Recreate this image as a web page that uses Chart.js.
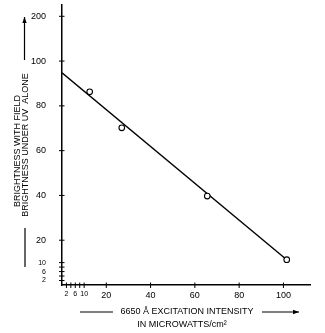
<!DOCTYPE html>
<html>
<head>
<meta charset="utf-8">
<script src="https://cdn.jsdelivr.net/npm/chart.js@4.4.0/dist/chart.umd.min.js"></script>
<style>
  html, body { margin: 0; padding: 0; background: #fff; }
  canvas { display: block; }
</style>
</head>
<body>
<canvas id="chart" width="325" height="333"></canvas>
<script>
// measured points (excitation intensity vs brightness ratio)
const intensity = [12.5, 27.0, 65.6, 101.5];
const brightness = [86.3, 70.2, 39.7, 11.3];
// fitted straight line
const fitX = [0, 101.5];
const fitY = [94.8, 11.3];

const xTicks = [2, 4, 6, 8, 10, 20, 40, 60, 80, 100];
const xTickLabels = ['2', '', '6', '', '10', '20', '40', '60', '80', '100'];
// top tick stands in for 200 (axis is squeezed above 100)
const yTicks = [2, 4, 6, 8, 10, 20, 40, 60, 80, 100, 120];
const yTickLabels = ['2', '', '6', '', '10', '20', '40', '60', '80', '100', '200'];

const xTitle = ['6650 Å EXCITATION INTENSITY', 'IN MICROWATTS/cm²'];
const yTitle = ['BRIGHTNESS WITH FIELD', 'BRIGHTNESS UNDER UV  ALONE'];

const INK = '#000';
const FAMILY = '"Liberation Sans", Arial, sans-serif';
Chart.defaults.font.family = FAMILY;
Chart.defaults.color = INK;

const tickFont = (ctx) => ({ family: FAMILY, size: ctx.tick && ctx.tick.value <= 10 ? 7 : 9 });

function arrow(ctx, x1, y1, x2, y2) {
  ctx.beginPath();
  ctx.moveTo(x1, y1);
  ctx.lineTo(x2, y2);
  ctx.stroke();
  const a = Math.atan2(y2 - y1, x2 - x1);
  ctx.beginPath();
  ctx.moveTo(x2, y2);
  ctx.lineTo(x2 - 6 * Math.cos(a) + 2.2 * Math.sin(a), y2 - 6 * Math.sin(a) - 2.2 * Math.cos(a));
  ctx.lineTo(x2 - 6 * Math.cos(a) - 2.2 * Math.sin(a), y2 - 6 * Math.sin(a) + 2.2 * Math.cos(a));
  ctx.closePath();
  ctx.fill();
}

const decorations = {
  id: 'decorations',
  afterDraw(chart) {
    const { ctx, scales: { x, y }, chartArea } = chart;
    ctx.save();
    ctx.strokeStyle = INK;
    ctx.fillStyle = INK;
    ctx.lineWidth = 1;

    // tick marks crossing the axes
    x.ticks.forEach((t) => {
      const px = x.getPixelForValue(t.value);
      ctx.beginPath();
      ctx.moveTo(px, chartArea.bottom - 2.5);
      ctx.lineTo(px, chartArea.bottom + 3);
      ctx.stroke();
    });
    y.ticks.forEach((t) => {
      const py = y.getPixelForValue(t.value);
      ctx.beginPath();
      ctx.moveTo(chartArea.left - 3, py);
      ctx.lineTo(chartArea.left + 2.5, py);
      ctx.stroke();
    });

    // y title (two stacked lines, rotated)
    ctx.font = '9px ' + FAMILY;
    ctx.textAlign = 'center';
    ctx.textBaseline = 'middle';
    ctx.save();
    ctx.translate(17.5, 151);
    ctx.rotate(-Math.PI / 2);
    ctx.fillText(yTitle[0], 0, 0);
    ctx.restore();
    ctx.save();
    ctx.translate(26, 145);
    ctx.rotate(-Math.PI / 2);
    ctx.fillText(yTitle[1], 0, 0);
    ctx.restore();

    // x title
    ctx.fillText(xTitle[0], 187, 312);
    ctx.fillText(xTitle[1], 182, 325);

    // arrows and bars
    ctx.lineWidth = 1.2;
    arrow(ctx, 24.5, 60, 24.5, 17);
    ctx.beginPath();
    ctx.moveTo(25, 228);
    ctx.lineTo(25, 267);
    ctx.stroke();
    ctx.beginPath();
    ctx.moveTo(80, 312);
    ctx.lineTo(113, 312);
    ctx.stroke();
    arrow(ctx, 262, 312, 299, 312);
    ctx.restore();
  }
};

new Chart(document.getElementById('chart'), {
  type: 'scatter',
  data: {
    datasets: [
      {
        label: 'measured',
        data: intensity.map((v, i) => ({ x: v, y: brightness[i] })),
        showLine: false,
        pointStyle: 'circle',
        pointRadius: 2.8,
        pointBackgroundColor: '#fff',
        pointBorderColor: INK,
        pointBorderWidth: 1.1,
        clip: false
      },
      {
        label: 'fit',
        data: fitX.map((v, i) => ({ x: v, y: fitY[i] })),
        showLine: true,
        borderColor: INK,
        borderWidth: 1.4,
        pointRadius: 0
      }
    ]
  },
  options: {
    responsive: false,
    animation: false,
    layout: { padding: { top: 5, right: 15, left: 0, bottom: 0 } },
    plugins: { legend: { display: false }, tooltip: { enabled: false } },
    scales: {
      x: {
        type: 'linear',
        min: 0,
        max: 112,
        grid: { display: false },
        border: { display: true, color: INK, width: 1.5 },
        afterBuildTicks: (s) => { s.ticks = xTicks.map((v) => ({ value: v })); },
        afterFit: (s) => {
          s.height = 48;
          s.paddingLeft = 0;
          s.paddingRight = 0;
        },
        ticks: {
          autoSkip: false,
          maxRotation: 0,
          minRotation: 0,
          padding: -3,
          color: INK,
          font: tickFont,
          callback: (v, i) => xTickLabels[i]
        }
      },
      y: {
        type: 'linear',
        min: 0,
        max: 125,
        grid: { display: false },
        border: { display: true, color: INK, width: 1.5 },
        afterBuildTicks: (s) => { s.ticks = yTicks.map((v) => ({ value: v })); },
        afterFit: (s) => {
          s.width = 62;
          s.paddingTop = 0;
          s.paddingBottom = 0;
        },
        ticks: {
          autoSkip: false,
          padding: 8,
          color: INK,
          font: tickFont,
          callback: (v, i) => yTickLabels[i]
        }
      }
    }
  },
  plugins: [decorations]
});
</script>
</body>
</html>
